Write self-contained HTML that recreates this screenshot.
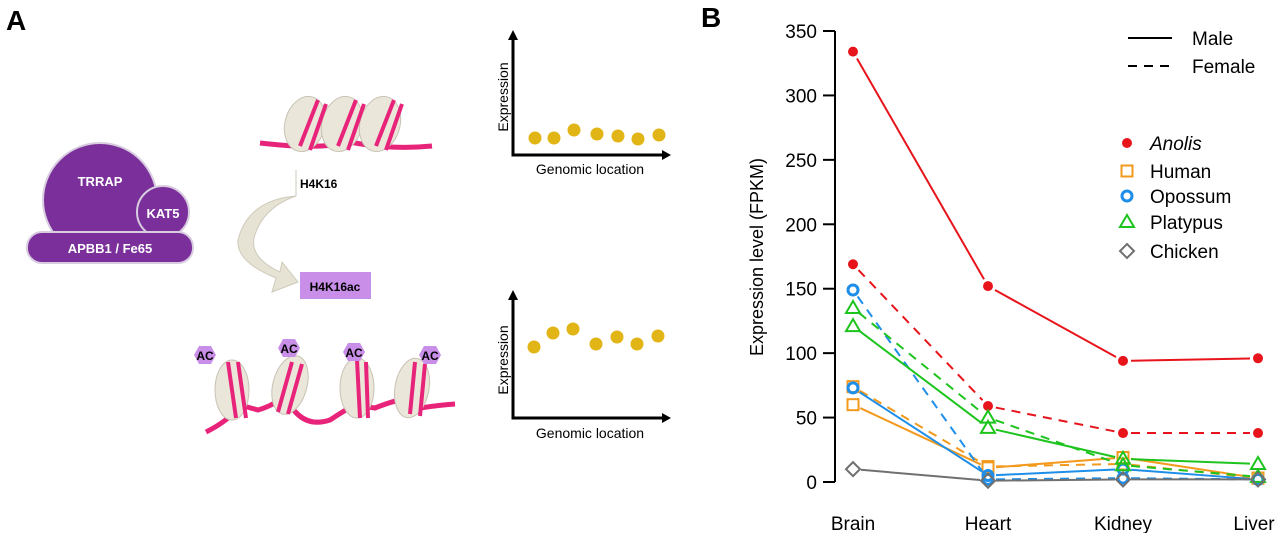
<!DOCTYPE html>
<html><head><meta charset="utf-8"><style>
html,body{margin:0;padding:0;background:#fff;}
svg{display:block;font-family:"Liberation Sans",sans-serif;}
</style></head><body>
<svg id="fig" width="1280" height="533" viewBox="0 0 1280 533">
<g>
<text x="6" y="30" font-size="28" font-weight="bold">A</text>
<g>
<circle cx="100" cy="200" r="57" fill="#7b2f9a" stroke="#d8cde0" stroke-width="2"/>
<circle cx="163" cy="212" r="26" fill="#7b2f9a" stroke="#d8cde0" stroke-width="2"/>
<rect x="27" y="232" width="166" height="31" rx="15" fill="#7b2f9a" stroke="#d8cde0" stroke-width="2"/>
<text x="100" y="186" font-size="13" font-weight="bold" fill="#fff" text-anchor="middle">TRRAP</text>
<text x="163" y="218" font-size="13" font-weight="bold" fill="#fff" text-anchor="middle">KAT5</text>
<text x="110" y="253" font-size="13" font-weight="bold" fill="#fff" text-anchor="middle">APBB1 / Fe65</text>
</g>
<g>
<path d="M260 143 Q320 150 350 142 Q390 150 432 146" stroke="#e8247a" stroke-width="5" fill="none"/>
<g fill="#ebe6da" stroke="#c8c2b4"><ellipse cx="305" cy="124" rx="20" ry="28" transform="rotate(15 305 124)"/><ellipse cx="342" cy="124" rx="20" ry="28" transform="rotate(15 342 124)"/><ellipse cx="380" cy="124" rx="20" ry="28" transform="rotate(15 380 124)"/></g>
<g stroke="#e8247a" stroke-width="4"><path d="M300 146 L318 100 M310 150 L326 104 M338 146 L356 100 M348 150 L364 104 M376 146 L394 100 M386 150 L402 104"/></g>
</g>
<text x="300" y="188" font-size="12" font-weight="bold">H4K16</text>
<path d="M296 170 L296 196 Q248 200 238 240 Q236 262 276 278 L272 292 L298 282 L282 262 L280 272 Q250 258 254 238 Q262 208 296 196 Z" fill="#e6e2d4" stroke="#cfcabb"/>
<rect x="300" y="272" width="71" height="27" fill="#c98ee8"/>
<text x="335" y="291" font-size="12" font-weight="bold" text-anchor="middle">H4K16ac</text>
<g>
<path d="M206 432 Q230 420 240 405 L258 410 Q275 405 285 395 Q300 430 330 420 Q345 410 355 405 L375 408 Q390 402 400 400 L420 408 Q440 405 455 404" stroke="#e8247a" stroke-width="5" fill="none"/>
<g fill="#ebe6da" stroke="#c8c2b4"><ellipse cx="232" cy="390" rx="17" ry="30"/><ellipse cx="290" cy="385" rx="17" ry="30" transform="rotate(15 290 385)"/><ellipse cx="357" cy="388" rx="17" ry="30"/><ellipse cx="412" cy="388" rx="17" ry="30" transform="rotate(10 412 388)"/></g>
<g stroke="#e8247a" stroke-width="4"><path d="M228 362 L236 418 M238 362 L246 418 M292 362 L278 412 M302 364 L288 414 M357 360 L360 418 M366 362 L368 418 M415 362 L410 414 M425 364 L420 416"/></g>
<g fill="#c98ee8"><polygon points="194,355 199,346 211,346 216,355 211,364 199,364"/><polygon points="278,348 283,339 295,339 300,348 295,357 283,357"/><polygon points="343,352 348,343 360,343 365,352 360,361 348,361"/><polygon points="419,355 424,346 436,346 441,355 436,364 424,364"/></g>
<g font-size="12" font-weight="bold" text-anchor="middle"><text x="205" y="360">AC</text><text x="289" y="353">AC</text><text x="354" y="357">AC</text><text x="430" y="360">AC</text></g>
</g>
<g>
<path d="M513 38 L513 155 L664 155" stroke="#000" stroke-width="3" fill="none"/>
<polygon points="508,40 513,30 518,40" fill="#000"/><polygon points="662,150 671,155 662,160" fill="#000"/>
<g fill="#e2b517"><circle cx="535" cy="138" r="6.5"/><circle cx="554" cy="138" r="6.5"/><circle cx="574" cy="130" r="6.5"/><circle cx="597" cy="134" r="6.5"/><circle cx="618" cy="136" r="6.5"/><circle cx="638" cy="139" r="6.5"/><circle cx="659" cy="135" r="6.5"/></g>
<text transform="translate(508 97) rotate(-90)" font-size="14" text-anchor="middle">Expression</text>
<text x="590" y="174" font-size="14" text-anchor="middle">Genomic location</text>
</g>
<g>
<path d="M513 298 L513 418 L664 418" stroke="#000" stroke-width="3" fill="none"/>
<polygon points="508,300 513,290 518,300" fill="#000"/><polygon points="662,413 671,418 662,423" fill="#000"/>
<g fill="#e2b517"><circle cx="534" cy="347" r="6.5"/><circle cx="553" cy="333" r="6.5"/><circle cx="573" cy="329" r="6.5"/><circle cx="596" cy="344" r="6.5"/><circle cx="617" cy="337" r="6.5"/><circle cx="637" cy="344" r="6.5"/><circle cx="658" cy="336" r="6.5"/></g>
<text transform="translate(508 360) rotate(-90)" font-size="14" text-anchor="middle">Expression</text>
<text x="590" y="438" font-size="14" text-anchor="middle">Genomic location</text>
</g>
</g>
<text x="701" y="27" font-size="28" font-weight="bold">B</text>
<g id="chart"></g>
</svg>
<script>
const tissues = ["Brain","Heart","Kidney","Liver"];
const yTicks = [0,50,100,150,200,250,300,350];
const species = ["Anolis","Human","Opossum","Platypus","Chicken"];
const colors = ["#e8141c","#f39a1e","#1e8ee8","#1ec41e","#707070"];
const anolisMale = [334,152,94,96];
const anolisFemale = [169,59,38,38];
const humanMale = [60,11,19,3];
const humanFemale = [74,12,14,3];
const opossumMale = [73,5,10,2];
const opossumFemale = [149,2,3,2];
const platypusMale = [121,42,18,14];
const platypusFemale = [135,50,13,4];
const chickenMale = [10,1,2,2];
const chickenFemale = [null,null,null,null];
const maleSeries = [anolisMale,humanMale,opossumMale,platypusMale,chickenMale];
const femaleSeries = [anolisFemale,humanFemale,opossumFemale,platypusFemale,chickenFemale];

const NS="http://www.w3.org/2000/svg";
const g=document.getElementById('chart');
const x0=853,x1=1258,yb=482,yt=31;
const xs=i=>x0+i*(x1-x0)/(tissues.length-1);
const ys=v=>yb-v*(yb-yt)/350;
function mk(t,a,p){const e=document.createElementNS(NS,t);for(const k in a)e.setAttribute(k,a[k]);(p||g).appendChild(e);return e;}
let ax=mk('line',{x1:835,x2:835,y1:ys(0),y2:ys(350),stroke:'#000','stroke-width':2});


yTicks.forEach(t=>{
 let tk=mk('line',{x1:823,x2:835,y1:ys(t),y2:ys(t),stroke:'#000','stroke-width':2});
 
 
 let tl=mk('text',{x:817,y:ys(t)+7,'font-size':19,'text-anchor':'end'});tl.textContent=t;
 
 
});
let yt2=mk('text',{transform:'translate(763 257) rotate(-90)','font-size':18,'text-anchor':'middle'});yt2.textContent='Expression level (FPKM)';


tissues.forEach((t,i)=>{
 let tl=mk('text',{x:xs(i)+(i==3?-4:0),y:530,'font-size':19,'text-anchor':'middle'});tl.textContent=t;
 
 
});
function marker(k,cx,cy,p){
 const c=colors[k];let e;
 if(k==0)e=mk('circle',{cx,cy,r:5,fill:c},p);
 else if(k==1)e=mk('rect',{x:cx-5.5,y:cy-5.5,width:11,height:11,fill:'none',stroke:c,'stroke-width':2},p);
 else if(k==2)e=mk('circle',{cx,cy,r:5,fill:'none',stroke:c,'stroke-width':3},p);
 else if(k==3)e=mk('polygon',{points:`${cx},${cy-7} ${cx+7},${cy+5} ${cx-7},${cy+5}`,fill:'none',stroke:c,'stroke-width':2},p);
 else e=mk('polygon',{points:`${cx},${cy-7} ${cx+7},${cy} ${cx},${cy+7} ${cx-7},${cy}`,fill:'none',stroke:c,'stroke-width':2},p);
 return e;
}
function series(vals,k,dash,name){
 const sg=mk('g',{});
 
 
 for(let i=0;i<vals.length-1;i++){
  if(vals[i]==null||vals[i+1]==null)continue;
  let ax1=xs(i),ay1=ys(vals[i]),ax2=xs(i+1),ay2=ys(vals[i+1]);
  let dx=ax2-ax1,dy=ay2-ay1,L=Math.hypot(dx,dy),s=8/L;
  let a={x1:ax1+dx*s,y1:ay1+dy*s,x2:ax2-dx*s,y2:ay2-dy*s,stroke:colors[k],'stroke-width':2};
  if(dash)a['stroke-dasharray']='9 7';
  mk('line',a,sg);
 }
 vals.forEach((v,i)=>{if(v!=null){const m=marker(k,xs(i),ys(v),sg);
  
  }});
}
species.forEach((s,k)=>{
 series(femaleSeries[k],k,true,s.toLowerCase()+'-female-line');
 series(maleSeries[k],k,false,s.toLowerCase()+'-male-line');
});
const lg=mk('g',{});


mk('line',{x1:1128,x2:1172,y1:38,y2:38,stroke:'#000','stroke-width':2},lg);
mk('line',{x1:1128,x2:1172,y1:66,y2:66,stroke:'#000','stroke-width':2,'stroke-dasharray':'9 7'},lg);
let t1=mk('text',{x:1192,y:45,'font-size':19},lg);t1.textContent='Male';
let t2=mk('text',{x:1192,y:73,'font-size':19},lg);t2.textContent='Female';
const ly=[143,171,196,222,251];
species.forEach((s,k)=>{
 const e=mk('g',{},lg);
 
 
 marker(k,1127,ly[k],e);
 const t=mk('text',{x:1150,y:ly[k]+7,'font-size':19},e);t.textContent=s;
 if(k==0)t.setAttribute('font-style','italic');
});
</script>
</body></html>
